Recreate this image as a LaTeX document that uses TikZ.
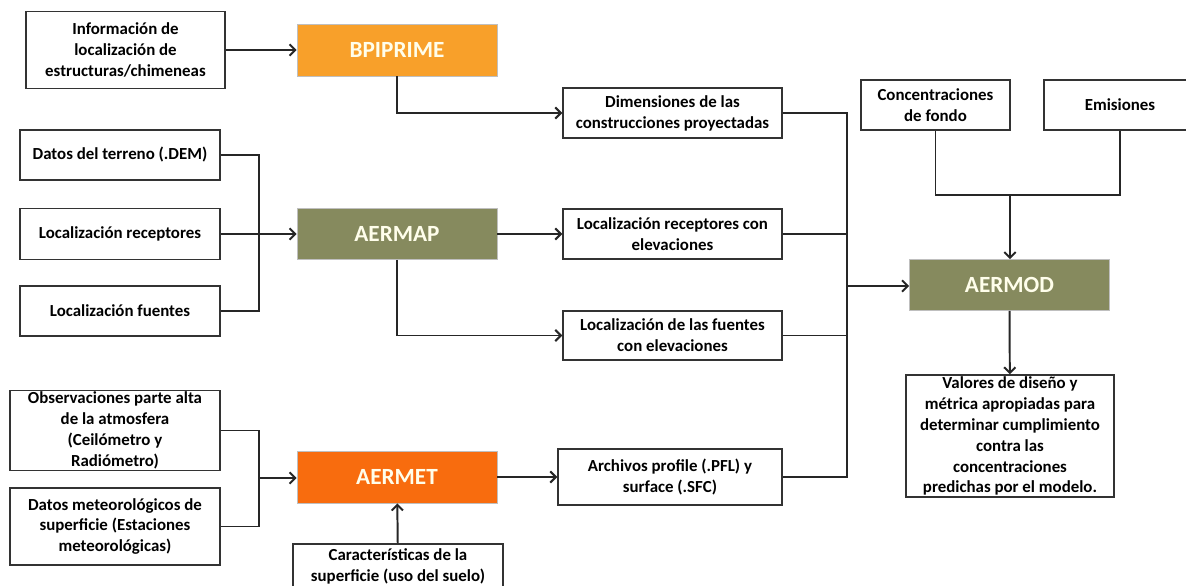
\documentclass[tikz,border=0pt]{standalone}
\usepackage{fontspec}
\setmainfont{Carlito}
\usepackage{tikz}
\usetikzlibrary{arrows.meta}

\definecolor{bpiorange}{RGB}{248,160,42}
\definecolor{metorange}{RGB}{248,108,14}
\definecolor{olivo}{RGB}{134,138,94}

\tikzset{
	caja/.style = {draw = black!80, line width = 1pt, fill = white, align = center, inner sep = 1pt, font = \bfseries\fontsize{12}{14.9}\selectfont},
	modelo/.style = {draw = black!25, line width = 0.6pt, fill = #1, text = white!92!yellow, minimum width = 5cm, minimum height = 1.3cm, font = \bfseries\fontsize{16.5}{18}\selectfont},
	linea/.style = {line width = 1.4pt, black!85}
}

\begin{document}
\begin{tikzpicture}[x = 0.025cm, y = -0.025cm, >={Straight Barb[length=4pt, width=8pt]}]
				\useasboundingbox (0, 0) rectangle (1186, 586);

				\node[caja, minimum width = 4.975cm, minimum height = 1.925cm](info) at (125.5, 50){Información de\\localización de\\estructuras/chimeneas};
				\node[modelo = bpiorange](bpi) at (397, 50){BPIPRIME};

				\node[caja, minimum width = 5cm, minimum height = 1.25cm](ter) at (120, 155){Datos del terreno (.DEM)};
				\node[caja, minimum width = 5cm, minimum height = 1.275cm](rec) at (120, 234){Localización receptores};
				\node[caja, minimum width = 5cm, minimum height = 1.25cm](fue) at (120, 311){Localización fuentes};
				\node[modelo = olivo, minimum height = 1.275cm](map) at (397, 234){AERMAP};

				\node[caja, minimum width = 5.25cm, minimum height = 1.925cm](atm) at (115, 430.5){Observaciones parte alta\\de la atmosfera\\(Ceilómetro y\\Radiómetro)};
				\node[caja, minimum width = 5.25cm, minimum height = 1.925cm](met) at (115, 526.5){Datos meteorológicos de\\superficie (Estaciones\\meteorológicas)};
				\node[modelo = metorange](aermet) at (397, 477){AERMET};
				\node[caja, minimum width = 5.25cm, minimum height = 1.1cm](suelo) at (398, 566){Características de la\\superficie (uso del suelo)};

				\node[caja, minimum width = 5.475cm, minimum height = 1.25cm](dim) at (672.5, 113){Dimensiones de las\\construcciones proyectadas};
				\node[caja, minimum width = 5.475cm, minimum height = 1.25cm](recel) at (672.5, 234){Localización receptores con\\elevaciones};
				\node[caja, minimum width = 5.475cm, minimum height = 1.225cm](fueel) at (672.5, 335.5){Localización de las fuentes\\con elevaciones};
				\node[caja, minimum width = 5.6cm, minimum height = 1.4cm](arch) at (670, 477){Archivos profile (.PFL) y\\surface (.SFC)};

				\node[caja, minimum width = 3.725cm, minimum height = 1.25cm](fondo) at (935.5, 105){Concentraciones\\de fondo};
				\node[caja, minimum width = 3.8cm, minimum height = 1.25cm](emi) at (1120, 105){Emisiones};
				\node[modelo = olivo, minimum height = 1.275cm](mod) at (1009.5, 285){AERMOD};
				\node[caja, minimum width = 5.2cm, minimum height = 2.95cm](val) at (1010, 436){Valores de diseño y\\métrica apropiadas para\\determinar cumplimiento\\contra las\\concentraciones\\predichas por el modelo.};

				\coordinate[](b1) at (259, 234);
				\coordinate[](b2) at (259, 478);
				\coordinate[](b3) at (847, 286);
				\coordinate[](u) at (1010, 195);

				\draw[linea, ->] (info)--(bpi);
				\draw[linea, ->] (bpi.south)|-(dim.west);
				\draw[linea] (ter.east)-|(b1)|-(fue.east);
				\draw[linea, ->] (rec.east)--(map.west);
				\draw[linea, ->] (map)--(recel);
				\draw[linea, ->] (map.south)|-(fueel.west);
				\draw[linea] (atm.east)-|(b2)|-(met.east);
				\draw[linea, ->] (b2)--(b2 -| aermet.west);
				\draw[linea, ->] (suelo)--(aermet);
				\draw[linea, ->] (aermet)--(arch);
				\draw[linea] (dim.east)-|(b3)|-(arch.east);
				\draw[linea] (recel.east)--(recel.east -| b3);
				\draw[linea] (fueel.east)--(fueel.east -| b3);
				\draw[linea, ->] (b3)--(b3 -| mod.west);
				\draw[linea] (fondo.south)|-(u)-|(emi.south);
				\draw[linea, ->] (u)--(u |- mod.north);
				\draw[linea, ->] (mod)--(val);
			\end{tikzpicture}
\end{document}
